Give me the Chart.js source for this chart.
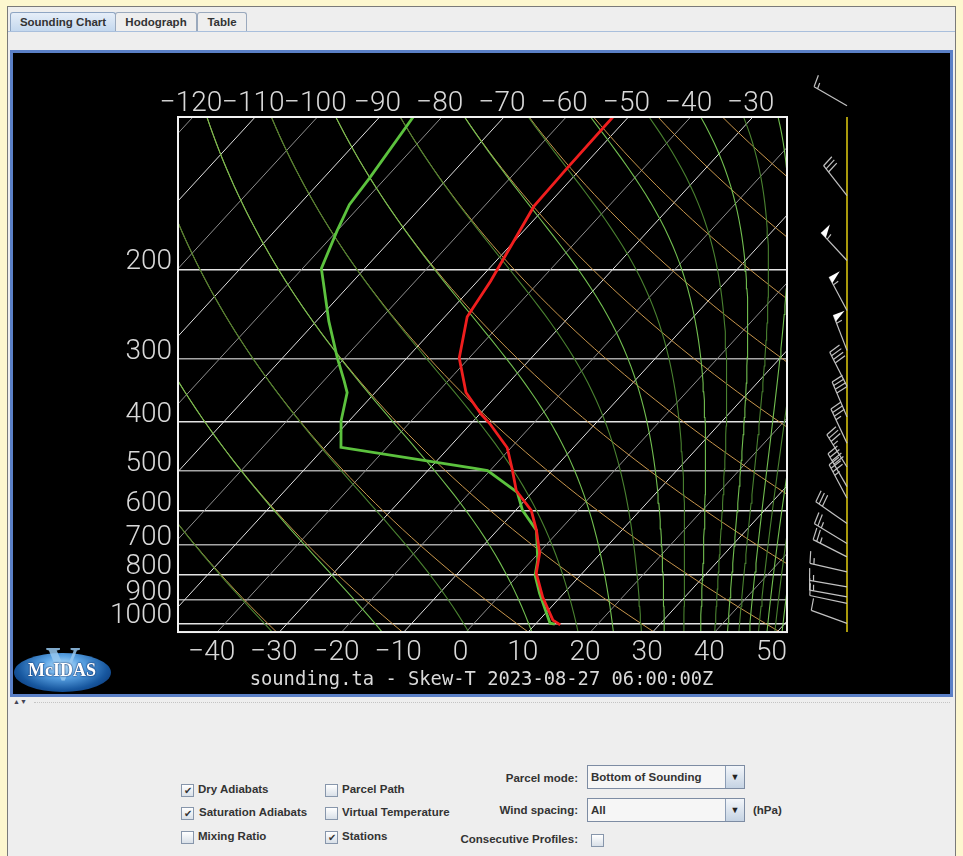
<!DOCTYPE html>
<html>
<head>
<meta charset="utf-8">
<script src="https://cdn.jsdelivr.net/npm/chart.js@4.4.1/dist/chart.umd.min.js"></script>
<style>
  body { margin: 0; width: 963px; height: 856px; background: #fdf7cf; position: relative; overflow: hidden;
         font-family: "Liberation Sans", Arial, sans-serif; }
  .abs { position: absolute; }
  #frame { left: 7px; top: 6px; width: 947px; height: 850px; background: #eeeeee;
           border-left: 1px solid #7a7a7a; border-top: 1px solid #7a7a7a; border-right: 1px solid #7a7a7a; }
  .tab { top: 12px; height: 18px; border: 1px solid #9aa9bd; border-bottom: none; border-radius: 3px 3px 0 0;
         font-weight: bold; font-size: 11.5px; color: #333; line-height: 19px; text-align: center; background: #eeeeee; }
  #panel { left: 10px; top: 50px; width: 943px; height: 647px; box-sizing: border-box; border: 3px solid #5a7fc6; background: #000; }
  #skewt { left: 13px; top: 53px; }
  .lbl { font-weight: bold; font-size: 11.5px; color: #333; line-height: 14px; white-space: nowrap; }
  .cb { width: 11px; height: 11px; border: 1px solid #8796ab; background: linear-gradient(#ffffff, #d9e0e8);
        font-size: 10px; line-height: 11px; text-align: center; color: #333; }
  .combo { width: 156px; height: 22px; border: 1px solid #7d8ca3; background: #f6f6f6; }
  .combo span { position: absolute; left: 3px; top: 4px; }
  .combo .btn { position: absolute; right: 0; top: 0; width: 18px; height: 22px; border-left: 1px solid #8c9db5;
                background: linear-gradient(#f3f6fa, #c5d3e3); font-size: 9px; line-height: 22px; text-align: center; color: #222; }
</style>
</head>
<body>
<div id="frame" class="abs"></div>
<div class="abs tab" style="left:10px;width:104px;background:linear-gradient(#e6eef8,#c4d8ee);border-color:#8ea5c3;">Sounding Chart</div>
<div class="abs tab" style="left:115px;width:80px;">Hodograph</div>
<div class="abs tab" style="left:197px;width:48px;">Table</div>
<div class="abs" style="left:8px;top:31px;width:947px;height:1px;background:#a9bfdc;"></div>
<div id="panel" class="abs"></div>
<canvas id="skewt" class="abs" width="937" height="641"></canvas>

<div class="abs" style="left:13px;top:698px;font-size:7px;color:#445;line-height:7px;">&#9650;&#9660;</div>
<div class="abs" style="left:34px;top:702px;width:916px;border-top:1px dotted #c4c4c4;"></div>

<!-- McIDAS-V logo -->
<div class="abs" style="left:14px;top:653px;width:97px;height:39px;border-radius:50%;
     background:radial-gradient(ellipse at 50% 35%, #c4e8ff 0%, #5aa3e4 30%, #17579f 65%, #06245c 100%);"></div>
<div class="abs" style="left:38px;top:636px;width:50px;text-align:center;font:bold 48px 'Liberation Serif',serif;color:rgba(150,200,240,0.85);line-height:56px;">V</div>
<div class="abs" style="left:14px;top:660px;width:96px;text-align:center;font:bold 18px 'Liberation Serif',serif;color:#fff;line-height:20px;text-shadow:0 0 2px #0a2c66,0 0 1px #0a2c66;">McIDAS</div>

<!-- controls -->
<div class="abs cb" style="left:181px;top:784px;">&#10004;</div>
<div class="abs lbl" style="left:198px;top:782px;">Dry Adiabats</div>
<div class="abs cb" style="left:181px;top:807px;">&#10004;</div>
<div class="abs lbl" style="left:199px;top:805px;">Saturation Adiabats</div>
<div class="abs cb" style="left:181px;top:831px;"></div>
<div class="abs lbl" style="left:198px;top:829px;">Mixing Ratio</div>
<div class="abs cb" style="left:325px;top:784px;"></div>
<div class="abs lbl" style="left:342px;top:782px;">Parcel Path</div>
<div class="abs cb" style="left:325px;top:807px;"></div>
<div class="abs lbl" style="left:342px;top:805px;">Virtual Temperature</div>
<div class="abs cb" style="left:325px;top:831px;">&#10004;</div>
<div class="abs lbl" style="left:342px;top:829px;">Stations</div>

<div class="abs lbl" style="left:400px;top:771px;width:178px;text-align:right;">Parcel mode:</div>
<div class="abs combo lbl" style="left:587px;top:765px;"><span>Bottom of Sounding</span><div class="btn">&#9660;</div></div>
<div class="abs lbl" style="left:400px;top:803px;width:178px;text-align:right;">Wind spacing:</div>
<div class="abs combo lbl" style="left:587px;top:798px;"><span>All</span><div class="btn">&#9660;</div></div>
<div class="abs lbl" style="left:753px;top:803px;">(hPa)</div>
<div class="abs lbl" style="left:380px;top:832px;width:198px;text-align:right;">Consecutive Profiles:</div>
<div class="abs cb" style="left:591px;top:834px;"></div>

<script>
// Skew-T axes
const P_TOP = 100;
const P_BOT = 1040;
const SKEW = 32.5;
const X_MIN = -46.3;
const X_MAX = 51.6;

// temperature profile (hPa, degC)
const TEMP_P = [1007, 985, 888, 796, 727, 655, 598, 547, 499, 450, 403, 386, 350, 299, 248, 211, 150, 126, 100];
const TEMP_C = [14.1, 12.2, 7.2, 2.6, 0.2, -3.7, -7.5, -12.8, -16.4, -20.6, -27.0, -29.8, -35.4, -41.6, -46.4, -47.9, -52.0, -52.3, -52.5];

// dewpoint profile
const DEWP_P = [1003, 999, 872, 803, 750, 655, 598, 551, 499, 494, 449, 398, 350, 332, 299, 253, 211, 199, 168, 149, 132, 100];
const DEWP_C = [13.1, 12.2, 6.1, 2.7, 0.9, -3.7, -8.9, -12.4, -20.4, -22.8, -47.4, -51.3, -54.5, -56.7, -61.2, -68.0, -74.8, -77.0, -80.0, -81.9, -82.6, -84.6];

// winds
const WIND_P = [95, 143, 192, 241, 289, 340, 391, 441, 491, 537, 566, 635, 695, 739, 791, 847, 886, 913, 1000];
const WIND_DIR = [300, 322, 317, 332, 339, 333, 337, 335, 328, 330, 332, 305, 301, 297, 283, 280, 280, 282, 290];
const WIND_KT = [15, 30, 55, 55, 55, 40, 40, 35, 35, 40, 35, 30, 25, 25, 15, 15, 15, 10, 10];

// ticks and background lines
const ISOBARS = [200, 300, 400, 500, 600, 700, 800, 900, 1000];
const BOTTOM_TICKS = [-40, -30, -20, -10, 0, 10, 20, 30, 40, 50];
const TOP_TICKS = [-120, -110, -100, -90, -80, -70, -60, -50, -40, -30];
const ISOTHERMS = [-120, -110, -100, -90, -80, -70, -60, -50, -40, -30, -20, -10, 0, 10, 20, 30, 40, 50];
const DRY_THETA = [240, 260, 280, 300, 320, 340, 360, 380, 400, 420, 440, 460, 480];
const SAT_THETAE = [240, 260, 280, 300, 320, 340, 360, 380, 400, 420, 440, 460, 480, 500, 520, 540, 560, 580];

const TITLE = "sounding.ta - Skew-T 2023-08-27 06:00:00Z";

const skewX = (t, p) => t + SKEW * Math.log(P_BOT / p);
const minus = (v) => String(v).replace("-", "\u2212");

// pressure levels used to trace the curved adiabats
const LEVELS = [];
for (let i = 0; i <= 60; i++) LEVELS.push(P_BOT * Math.pow(P_TOP / P_BOT, i / 60));

function esat(t) {
  return 6.112 * Math.exp((17.67 * t) / (t + 243.5));
}
function thetaE(t, p) {
  const k = t + 273.15;
  const e = esat(t);
  if (e > 0.5 * p) return Infinity;
  const r = (0.622 * e) / p;
  return k * Math.pow(1000 / p, 0.2857) * Math.exp((2.5e6 * r) / (1004 * k));
}
function satTemp(te, p) {
  let lo = -170, hi = 80;
  for (let i = 0; i < 50; i++) {
    const mid = (lo + hi) / 2;
    if (thetaE(mid, p) > te) hi = mid; else lo = mid;
  }
  return (lo + hi) / 2;
}

const datasets = [
  {
    label: "Temperature",
    data: TEMP_P.map((p, i) => ({ x: skewX(TEMP_C[i], p), y: p })),
    borderColor: "#f01e1e", borderWidth: 2.8, order: 0,
  },
  {
    label: "Dewpoint",
    data: DEWP_P.map((p, i) => ({ x: skewX(DEWP_C[i], p), y: p })),
    borderColor: "#5cc23e", borderWidth: 2.8, order: 0,
  },
];
SAT_THETAE.forEach((te, i) => {
  datasets.push({
    data: LEVELS.map((p) => ({ x: skewX(satTemp(te, p), p), y: p })),
    borderColor: i % 2 ? "#72bf50" : "#4a8230", borderWidth: 1.1, order: 1,
  });
});
DRY_THETA.forEach((th) => {
  datasets.push({
    data: LEVELS.map((p) => ({ x: skewX(th * Math.pow(p / 1000, 0.2857) - 273.15, p), y: p })),
    borderColor: "#c8964c", borderWidth: 1, order: 2,
  });
});
ISOTHERMS.forEach((t, i) => {
  datasets.push({
    data: [{ x: skewX(t, P_BOT), y: P_BOT }, { x: skewX(t, P_TOP), y: P_TOP }],
    borderColor: i % 2 ? "#e0e0e0" : "#8f8f8f", borderWidth: 1, order: 3,
  });
});

function drawBarb(ctx, x0, y0, dir, kt) {
  const a = (dir * Math.PI) / 180;
  const ux = Math.sin(a), uy = -Math.cos(a);
  const fx = -uy, fy = ux;
  const L = 38, F = 12, gap = 4;
  const tx = x0 + ux * L, ty = y0 + uy * L;
  const at = (d) => [tx - ux * d, ty - uy * d];
  ctx.strokeStyle = "#c2c2c2";
  ctx.fillStyle = "#ffffff";
  ctx.lineWidth = 1.2;
  ctx.beginPath();
  ctx.moveTo(x0, y0);
  ctx.lineTo(tx, ty);
  ctx.stroke();
  let rest = Math.round(kt / 5) * 5;
  let d = 0;
  while (rest >= 50) {
    const [ax, ay] = at(d), [bx, by] = at(d + 7);
    ctx.beginPath();
    ctx.moveTo(ax, ay);
    ctx.lineTo(ax + fx * F, ay + fy * F);
    ctx.lineTo(bx, by);
    ctx.closePath();
    ctx.fill();
    d += 9;
    rest -= 50;
  }
  while (rest >= 10) {
    const [px, py] = at(d);
    ctx.beginPath();
    ctx.moveTo(px, py);
    ctx.lineTo(px + fx * F + ux * 2, py + fy * F + uy * 2);
    ctx.stroke();
    d += gap;
    rest -= 10;
  }
  if (rest >= 5) {
    const [px, py] = at(d);
    ctx.beginPath();
    ctx.moveTo(px, py);
    ctx.lineTo(px + fx * F * 0.5 + ux, py + fy * F * 0.5 + uy);
    ctx.stroke();
  }
}

const frameAndWinds = {
  id: "frameAndWinds",
  afterDatasetsDraw(chart) {
    const { ctx, chartArea: a } = chart;
    ctx.save();
    ctx.strokeStyle = "#f2f2f2";
    ctx.lineWidth = 2;
    ctx.strokeRect(a.left, a.top, a.right - a.left, a.bottom - a.top);
    ctx.restore();
  },
  afterDraw(chart) {
    const { ctx, chartArea: a, scales } = chart;
    const sx = a.right + 60;
    ctx.save();
    ctx.strokeStyle = "#e2cc10";
    ctx.lineWidth = 1.5;
    ctx.beginPath();
    ctx.moveTo(sx, a.top);
    ctx.lineTo(sx, a.bottom);
    ctx.stroke();
    WIND_P.forEach((p, i) => {
      drawBarb(ctx, sx, scales.y.getPixelForValue(p), WIND_DIR[i], WIND_KT[i]);
    });
    ctx.restore();
  },
};

const tickFont = { family: "Roboto, 'DejaVu Sans', sans-serif", size: 28, weight: 300, lineHeight: 1 };
const tickColor = "#d9d9d9";

new Chart(document.getElementById("skewt"), {
  type: "line",
  data: { datasets },
  plugins: [frameAndWinds],
  options: {
    responsive: false,
    animation: false,
    devicePixelRatio: 1,
    events: [],
    layout: { padding: 0 },
    elements: { point: { radius: 0 }, line: { tension: 0 } },
    plugins: {
      legend: { display: false },
      tooltip: { enabled: false },
      title: {
        display: true, position: "bottom", text: TITLE, color: "#d9d9d9",
        font: { family: "'DejaVu Sans Mono', monospace", size: 18.8, weight: "normal", lineHeight: 1.2 },
        padding: { top: 0, bottom: 3 },
      },
    },
    scales: {
      x: {
        type: "linear", position: "bottom", min: X_MIN, max: X_MAX,
        afterBuildTicks: (s) => { s.ticks = BOTTOM_TICKS.map((v) => ({ value: v })); },
        afterFit: (s) => { s.height = 36.4; },
        grid: { display: false, drawTicks: false },
        border: { display: false },
        ticks: { autoSkip: false, maxRotation: 0, minRotation: 0, padding: 7, labelOffset: -5.5,
                 color: tickColor, font: tickFont, callback: (v) => minus(v) },
      },
      xTop: {
        type: "linear", position: "top", min: X_MIN, max: X_MAX,
        afterBuildTicks: (s) => { s.ticks = TOP_TICKS.map((t) => ({ value: skewX(t, P_TOP) })); },
        afterFit: (s) => { s.height = 64; },
        grid: { display: false, drawTicks: false },
        border: { display: false },
        ticks: { autoSkip: false, maxRotation: 0, minRotation: 0, padding: -1, labelOffset: -2,
                 color: tickColor, font: tickFont,
                 callback: (v) => minus(Math.round(v - SKEW * Math.log(P_BOT / P_TOP))) },
      },
      y: {
        type: "logarithmic", reverse: true, min: P_TOP, max: P_BOT,
        afterBuildTicks: (s) => { s.ticks = ISOBARS.map((v) => ({ value: v })); },
        afterFit: (s) => { s.width = 165; },
        grid: {
          drawTicks: false, lineWidth: 1.5,
          color: (c) => (c.tick && c.tick.value % 200 === 0 ? "#e4e4e4" : "#a6a6a6"),
        },
        border: { display: false },
        ticks: { autoSkip: false, padding: 6, labelOffset: -7, color: tickColor, font: tickFont,
                 callback: (v) => String(v) },
      },
      // empty strip on the right where the wind barbs are drawn
      yWind: {
        type: "linear", position: "right", min: 0, max: 1,
        afterFit: (s) => { s.width = 163; },
        grid: { display: false, drawTicks: false },
        border: { display: false },
        ticks: { display: false },
      },
    },
  },
});
</script>
</body>
</html>
